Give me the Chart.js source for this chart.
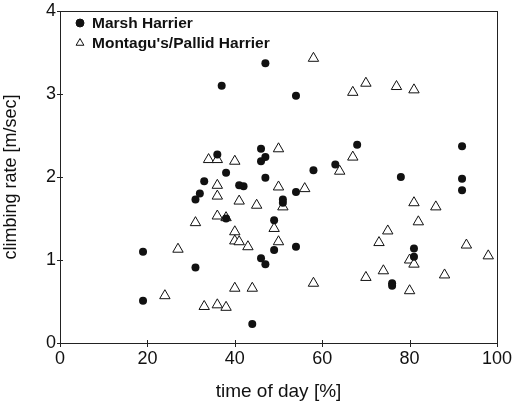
<!DOCTYPE html>
<html>
<head>
<meta charset="utf-8">
<script src="https://cdn.jsdelivr.net/npm/chart.js@4.4.0/dist/chart.umd.min.js"></script>
<style>
  html, body { margin: 0; padding: 0; background: #fff; }
  #wrap { width: 514px; height: 403px; }
</style>
</head>
<body>
<div id="wrap"><canvas id="harrierChart" width="514" height="403"></canvas></div>
<script>
// time of day [%] and climbing rate [m/sec]
const marshX = [19, 19, 31, 31, 32, 33, 36, 37, 38, 38, 41, 42, 44, 46, 46, 47, 47, 47, 46, 47,
    49, 49, 51, 51, 54, 54, 54, 58, 63, 68, 78, 76, 76, 81, 81, 92, 92, 92];
const marshY = [1.10, 0.51, 0.91, 1.73, 1.80, 1.95, 2.27, 3.10, 2.05, 1.50, 1.90, 1.89, 0.23, 2.34, 2.19, 2.24, 3.37, 1.99, 1.02, 0.95,
    1.48, 1.12, 1.73, 1.69, 2.98, 1.82, 1.16, 2.08, 2.15, 2.39, 2.00, 0.72, 0.69, 1.14, 1.04, 2.37, 1.98, 1.84];

const montaguX = [58, 67, 70, 77, 81, 50, 34, 36, 40, 67, 64, 36, 50, 56, 36, 41, 45, 51, 31, 36,
    38, 49, 40, 40, 41, 43, 50, 27, 24, 33, 36, 38, 40, 44, 58, 81, 86, 82, 75, 73,
    93, 80, 81, 98, 74, 70, 88, 80];
const montaguY = [3.43, 3.02, 3.13, 3.09, 3.05, 2.34, 2.21, 2.21, 2.19, 2.24, 2.07, 1.90, 1.88, 1.86, 1.77, 1.71, 1.66, 1.64, 1.45, 1.53,
    1.51, 1.38, 1.34, 1.23, 1.22, 1.16, 1.22, 1.13, 0.57, 0.44, 0.46, 0.43, 0.66, 0.66, 0.72, 1.69, 1.64, 1.46, 1.35, 1.21,
    1.18, 1.00, 0.95, 1.05, 0.87, 0.79, 0.82, 0.63];

const xTicks = [0, 20, 40, 60, 80, 100];
const yTicks = [0, 1, 2, 3, 4];

const toPoints = (xs, ys) => xs.map((x, i) => ({ x: x, y: ys[i] }));

// frame round the plot area, ticks crossing the axis lines
const frame = {
    id: 'frame',
    afterDraw(chart) {
        const a = chart.chartArea;
        const c = chart.ctx;
        const xs = chart.scales.x, ys = chart.scales.y;
        c.save();
        c.strokeStyle = '#222';
        c.lineWidth = 1;
        c.strokeRect(a.left + 0.5, a.top + 0.5, a.right - a.left, a.bottom - a.top);
        c.beginPath();
        xTicks.forEach(v => {
            const px = Math.round(xs.getPixelForValue(v)) + 0.5;
            c.moveTo(px, a.bottom - 3);
            c.lineTo(px, a.bottom + 4);
        });
        yTicks.forEach(v => {
            const py = Math.round(ys.getPixelForValue(v)) + 0.5;
            c.moveTo(a.left - 3, py);
            c.lineTo(a.left + 3, py);
        });
        c.stroke();
        c.restore();
    }
};

// legend inside the top-left corner, stacked
const innerLegend = {
    id: 'innerLegend',
    afterDraw(chart) {
        const a = chart.chartArea;
        const c = chart.ctx;
        c.save();
        c.font = 'bold 15.5px "Liberation Sans", Arial, sans-serif';
        c.textBaseline = 'middle';
        chart.data.datasets.forEach((ds, i) => {
            const y = a.top + 12 + i * 20;
            const x = a.left + 20;
            c.strokeStyle = ds.borderColor;
            c.fillStyle = ds.backgroundColor;
            c.lineWidth = 1;
            Chart.helpers.drawPoint(c, {
                pointStyle: ds.pointStyle,
                radius: ds.pointStyle === 'circle' ? 4 : 4.5,
                borderWidth: 1
            }, x, y);
            c.fillStyle = '#111';
            c.fillText(ds.label, x + 12, y + 1);
        });
        c.restore();
    }
};

const ctx = document.getElementById('harrierChart').getContext('2d');

new Chart(ctx, {
    type: 'scatter',
    data: {
        datasets: [
            {
                label: 'Marsh Harrier',
                data: toPoints(marshX, marshY),
                pointStyle: 'circle',
                pointRadius: 4,
                backgroundColor: '#111',
                borderColor: '#111',
                borderWidth: 0
            },
            {
                label: "Montagu's/Pallid Harrier",
                data: toPoints(montaguX, montaguY),
                pointStyle: 'triangle',
                pointRadius: 6,
                backgroundColor: '#fff',
                borderColor: '#111',
                borderWidth: 1
            }
        ]
    },
    options: {
        responsive: false,
        animation: false,
        layout: { padding: { left: 0, right: 17, top: 11, bottom: 0 } },
        plugins: {
            legend: { display: false },
            tooltip: { enabled: false }
        },
        scales: {
            x: {
                type: 'linear',
                min: 0,
                max: 100,
                afterFit: (scale) => {
                    scale.height = 60;
                    scale.paddingLeft = 0;
                    scale.paddingRight = 0;
                },
                afterBuildTicks: (scale) => { scale.ticks = xTicks.map(v => ({ value: v })); },
                border: { display: false },
                grid: { display: false, drawTicks: false },
                ticks: {
                    color: '#111',
                    padding: 5,
                    font: { size: 18, family: '"Liberation Sans", Arial, sans-serif' }
                },
                title: {
                    display: true,
                    text: 'time of day [%]',
                    color: '#111',
                    padding: { top: 3, bottom: 0 },
                    font: { size: 19, family: '"Liberation Sans", Arial, sans-serif' }
                }
            },
            y: {
                type: 'linear',
                min: 0,
                max: 4,
                afterFit: (scale) => {
                    scale.width = 60;
                    scale.paddingTop = 0;
                    scale.paddingBottom = 0;
                },
                afterBuildTicks: (scale) => { scale.ticks = yTicks.map(v => ({ value: v })); },
                border: { display: false },
                grid: { display: false, drawTicks: false },
                ticks: {
                    color: '#111',
                    padding: 4,
                    font: { size: 18, family: '"Liberation Sans", Arial, sans-serif' }
                },
                title: {
                    display: true,
                    text: 'climbing rate [m/sec]',
                    color: '#111',
                    padding: { top: 0, bottom: 0 },
                    font: { size: 18, family: '"Liberation Sans", Arial, sans-serif' }
                }
            }
        }
    },
    plugins: [frame, innerLegend]
});
</script>
</body>
</html>
